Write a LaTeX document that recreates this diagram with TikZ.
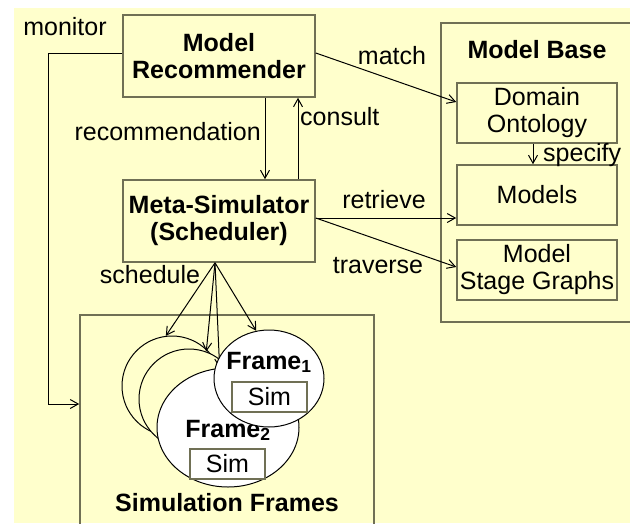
\documentclass[tikz,border=0pt]{standalone}
\usepackage{fontspec}
\setmainfont{Liberation Sans}
\usetikzlibrary{arrows.meta,shapes.geometric}
\definecolor{paleyellow}{RGB}{255,255,204}
\definecolor{boxgray}{RGB}{112,112,85}

\begin{document}
\begin{tikzpicture}[x=1pt,y=-1pt,
    >={Straight Barb[length=8pt,width=9pt]},
    every node/.style={font=\fontsize{25}{27}\selectfont},
    bold/.style={font=\fontsize{25}{27}\selectfont\bfseries},
    lbl/.style={inner sep=0pt},
    box/.style={draw=boxgray,line width=1.6pt,inner sep=0pt,align=center},
    simbox/.style={box,fill=white,minimum width=75pt,minimum height=30pt},
    frm/.style={draw,ellipse,fill=white,line width=1pt,inner sep=0pt},
    conn/.style={->,line width=1pt}]
\useasboundingbox (0,0) rectangle (630,523);
\fill[paleyellow] (14,8) rectangle (630,523);

% main boxes
\node[box,bold,minimum width=192pt,minimum height=82pt] (rec) at (219,56) {Model\\Recommender};
\node[box,bold,minimum width=192pt,minimum height=82pt] (meta) at (219,221) {Meta-Simulator\\(Scheduler)};

% model base
\node[box,minimum width=199pt,minimum height=299pt] (base) at (540.5,172.5) {};
\node[bold] (basettl) at (537,50) {Model Base};
\node[box,minimum width=160pt,minimum height=60pt] (onto) at (537,113) {Domain\\Ontology};
\node[box,minimum width=160pt,minimum height=60pt] (models) at (537,195) {Models};
\node[box,minimum width=160pt,minimum height=60pt] (stage) at (537,270) {Model\\Stage Graphs};

% simulation frames
\node[box,minimum width=294pt,minimum height=225pt] (sim) at (227,427.5) {};
\node[bold] (simttl) at (227,503) {Simulation Frames};
\node[frm,circle,fill=paleyellow,minimum size=100pt] (bk1) at (172,386) {};
\node[frm,circle,fill=paleyellow,minimum size=100pt] (bk2) at (189,399) {};
\node[frm,minimum width=142pt,minimum height=119pt] (f2) at (228,427.5) {};
\node[bold,anchor=base] (f2ttl) at (228,437) {Frame\textsubscript{2}};
\node[simbox] (sim2) at (227.5,464) {Sim};

\coordinate (sch) at ([xshift=-4pt]meta.south);
\draw[conn] (sch) -- (bk1.97);
\draw[conn] (sch) -- (bk2.70);
\draw[conn] (sch) -- (f2.98);

\node[frm,minimum width=110pt,minimum height=97pt] (f1) at (269,378.5) {};
\node[bold,anchor=base] (f1ttl) at (269,369) {Frame\textsubscript{1}};
\node[simbox] (sim1) at (269.5,397) {Sim};
\draw[conn] (sch) -- (f1.105);

% connectors
\coordinate (mon) at (48,404);
\draw[conn] ([yshift=3pt]rec.west) -| (mon) -- (mon -| sim.west);
\draw[conn] ([xshift=46pt]rec.south) -- ([xshift=46pt]meta.north);
\draw[conn] ([xshift=79pt]meta.north) -- ([xshift=79pt]rec.south);
\draw[conn] ([yshift=3pt]rec.east) -- ([yshift=11pt]onto.west);
\draw[conn] ([xshift=-4pt]onto.south) -- ([xshift=-4pt]models.north);
\draw[conn] ([yshift=3pt]meta.east) -- ([yshift=3pt]meta.east -| models.west);
\draw[conn] ([yshift=3pt]meta.east) -- ([yshift=3pt]stage.west);

% labels
\node[lbl] (monlbl) at (65,27) {monitor};
\node[lbl,anchor=east] (reclbl) at (261,132) {recommendation};
\node[lbl,anchor=west] (conlbl) at (300,117) {consult};
\node[lbl] (matlbl) at (392,56) {match};
\node[lbl,anchor=west] (spclbl) at (543,155) {specify};
\node[lbl] (retlbl) at (384,200) {retrieve};
\node[lbl] (trvlbl) at (378,266) {traverse};
\node[lbl] (schlbl) at (150,275) {schedule};
\end{tikzpicture}
\end{document}
